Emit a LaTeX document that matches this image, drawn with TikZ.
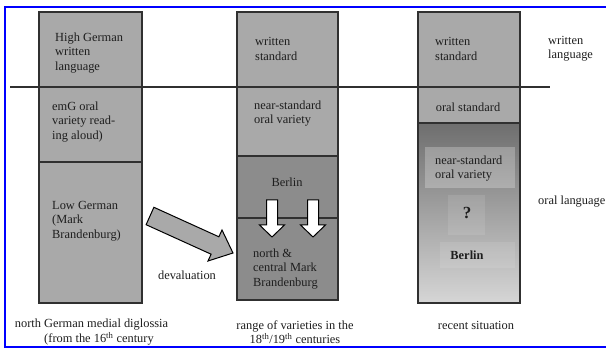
\documentclass[tikz,border=0pt]{standalone}
\usepackage{fontspec}
\setmainfont{Liberation Serif}
\definecolor{lgrey}{HTML}{A9A9A9}
\definecolor{dgrey}{HTML}{8C8C8C}
\definecolor{edge}{HTML}{303030}
\definecolor{txt}{HTML}{1E1E1E}
\definecolor{gtop}{HTML}{6E6E6E}
\definecolor{gbot}{HTML}{D6D6D6}
\begin{document}
\begin{tikzpicture}[x=1pt,y=-1pt,
  box/.style={draw=edge, line width=1.3pt, fill=lgrey, anchor=north west, inner sep=0pt, outer sep=0pt},
  inbox/.style={anchor=north west, inner sep=0pt, outer sep=0pt},
  lbl/.style={text=txt, font=\fontsize{12.4}{14.4}\selectfont, align=left, inner sep=0pt},
  captxt/.style={text=txt, font=\fontsize{12.4}{14.2}\selectfont, align=center, inner sep=0pt},
  warrow/.style={draw=black, line width=1pt, fill=white, line join=miter},
  garrow/.style={draw=black, line width=1pt, fill=lgrey, line join=miter}]
\useasboundingbox (0,0) rectangle (606,350);
% frame
\draw[blue, line width=2pt] (612,7) -- (5,7) -- (5,347) -- (612,347);
% column 1
\node[box, minimum width=103pt, minimum height=75pt] (c1a) at (39,12) {};
\node[box, minimum width=103pt, minimum height=75pt] (c1b) at (39,87) {};
\node[box, minimum width=103pt, minimum height=141pt] (c1c) at (39,162) {};
% column 2
\node[box, minimum width=101pt, minimum height=75pt] (c2a) at (237,12) {};
\node[box, minimum width=101pt, minimum height=69pt] (c2b) at (237,87) {};
\node[box, fill=dgrey, minimum width=101pt, minimum height=62pt] (c2c) at (237,156) {};
\node[box, fill=dgrey, minimum width=101pt, minimum height=82pt] (c2d) at (237,218) {};
% column 3
\node[box, minimum width=102pt, minimum height=75pt] (c3a) at (418,12) {};
\node[box, minimum width=102pt, minimum height=36pt] (c3b) at (418,87) {};
\node[box, top color=gtop, bottom color=gbot, minimum width=102pt, minimum height=180pt] (c3c) at (418,123) {};
\node[inbox, fill=white, fill opacity=0.25, minimum width=90pt, minimum height=41pt] (c3n) at (425,147) {};
\node[inbox, fill=white, fill opacity=0.1, minimum width=37pt, minimum height=40pt] (c3q) at (448,195) {};
\node[inbox, fill=white, fill opacity=0.1, minimum width=75pt, minimum height=26pt] (c3berlin) at (440,242) {};
% divider line
\draw[line width=1.3pt, edge] (10,87) -- (550,87);
% white arrows
\draw[warrow] (266.5,200) -- (277.5,200) -- (277.5,225) -- (284.5,225) -- (272,237) -- (259.5,225) -- (266.5,225) -- cycle;
\draw[warrow] (307.5,200) -- (318.5,200) -- (318.5,225) -- (325.5,225) -- (313,237) -- (300.5,225) -- (307.5,225) -- cycle;
% big grey arrow
\draw[garrow] (153.9,207.3) -- (218.9,236.8) -- (222,230) -- (233,253) -- (208,261) -- (211.1,254.2) -- (146.1,224.7) -- cycle;
% labels column 1
\node[lbl, anchor=west] (t1a) at (55,53) {High German\\written\\language};
\node[lbl, anchor=west] (t1b) at (52,122) {emG oral\\variety read-\\ing aloud)};
\node[lbl, anchor=west] (t1c) at (52,221) {Low German\\(Mark\\Brandenburg)};
% labels column 2
\node[lbl, anchor=west] (t2a) at (255,49) {written\\standard};
\node[lbl, anchor=west] (t2b) at (254,113.5) {near-standard\\oral variety};
\node[lbl] (t2c) at (287,182) {Berlin};
\node[lbl, anchor=west] (t2d) at (253,269) {north \&\\central Mark\\Brandenburg};
% labels column 3
\node[lbl, anchor=west] (t3a) at (435,49) {written\\standard};
\node[lbl] (t3b) at (468,107) {oral standard};
\node[lbl, anchor=west] (t3n) at (435,168.5) {near-standard\\oral variety};
\node[lbl, font=\fontsize{17}{18}\selectfont\bfseries] (t3q) at (467,213) {?};
\node[lbl, font=\fontsize{12.4}{14.4}\selectfont\bfseries] (t3berlin) at (467,255) {Berlin};
% right side labels
\node[lbl, anchor=west] (rw) at (548,49) {written\\language};
\node[lbl, anchor=west] (ro) at (538,202) {oral language};
% devaluation
\node[lbl] (dev) at (187,275) {devaluation};
% captions
\node[captxt] (cap1a) at (91.5,325) {north German medial diglossia};
\node[captxt] (cap1b) at (99,339) {(from the 16\textsuperscript{th} century};
\node[captxt] (cap2) at (295,332) {range of varieties in the\\18\textsuperscript{th}/19\textsuperscript{th} centuries};
\node[captxt] (cap3) at (476,325) {recent situation};
\end{tikzpicture}
\end{document}
